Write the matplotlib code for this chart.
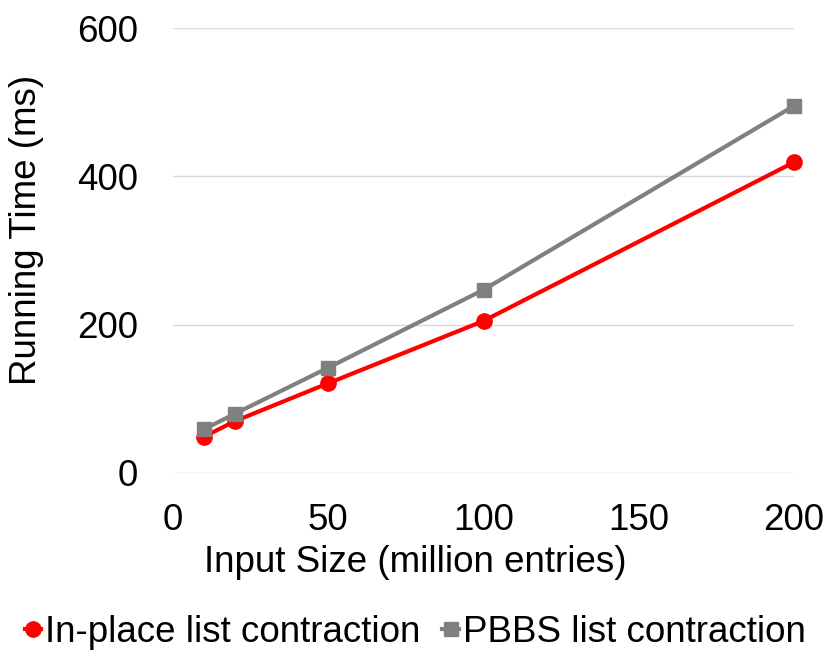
import matplotlib
matplotlib.use("Agg")
import matplotlib.pyplot as plt

sizes = [10, 20, 50, 100, 200]
inplace = [49, 70, 121, 205, 419]
pbbs = [59, 80, 142, 247, 495]
series_names = ["In-place list contraction", "PBBS list contraction"]
xticks = [0, 50, 100, 150, 200]
yticks = [0, 200, 400, 600]

plt.rcParams['font.family'] = ['Liberation Sans', 'DejaVu Sans']

FS = 26.5
fig = plt.figure(figsize=(8.3, 6.64), dpi=100)
ax = fig.add_axes([173/830, 1-473/664, (794-173)/830, (473-28)/664])

ax.plot(sizes, inplace, color='#ff0000', lw=3, marker='o', ms=11, label=series_names[0],
        zorder=3, clip_on=False)
ax.plot(sizes, pbbs, color='#808080', lw=3, marker='s', ms=10.5, label=series_names[1],
        zorder=3, clip_on=False)

ax.set_xlim(0, 200)
ax.set_ylim(0, 600)
ax.set_xticks(xticks)
ax.set_yticks(yticks)
ax.tick_params(axis='both', length=0, labelsize=FS)
ax.tick_params(axis='y', pad=25)
ax.tick_params(axis='x', pad=21.5)
for s in ax.spines.values():
    s.set_visible(False)
ax.grid(axis='y', color='#d9d9d9', lw=1)
ax.set_axisbelow(True)
ax.set_xlabel("Input Size (million entries)", fontsize=FS)
ax.set_ylabel("Running Time (ms)", fontsize=FS)
ax.xaxis.set_label_coords(0.5, 1-563/664, transform=fig.transFigure)
ax.xaxis.label.set_va('center')
ax.yaxis.set_label_coords(27/830, 1-230/664, transform=fig.transFigure)
ax.yaxis.label.set_va('center')

fig.legend(loc='center', bbox_to_anchor=(0.5, 1-632/664), ncol=2, frameon=False,
           fontsize=FS, handlelength=0.45, handletextpad=0.1, columnspacing=0.6,
           borderpad=0, borderaxespad=0)

fig.savefig("out.png", dpi=100)
